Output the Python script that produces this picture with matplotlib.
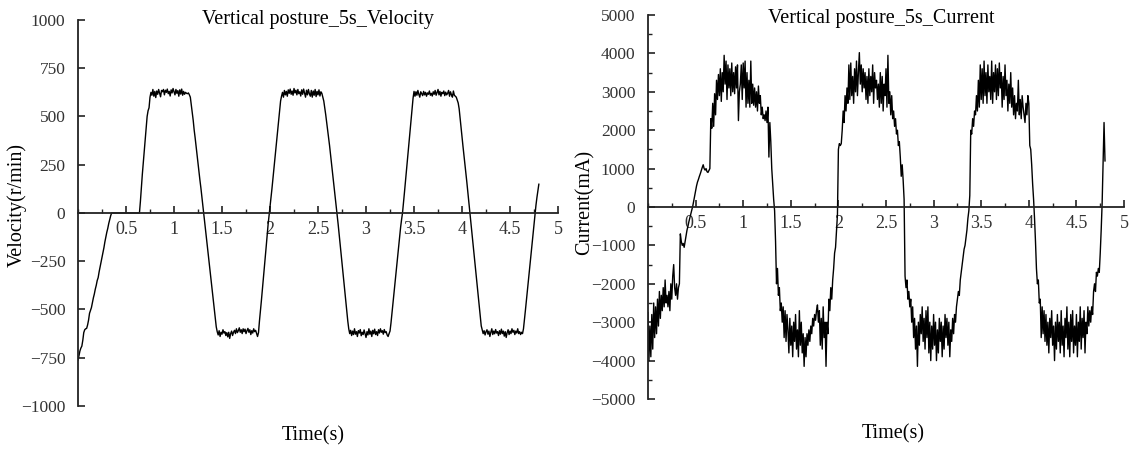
import numpy as np
import matplotlib
matplotlib.use('Agg')
import matplotlib.pyplot as plt
from matplotlib.ticker import MultipleLocator, FixedLocator, FixedFormatter

plt.rcParams['font.family'] = ['Liberation Serif', 'DejaVu Serif']

# sampling step of the logged signals (s)
dt = 0.01

# motor speed, r/min
velocity = [
    -762, -740, -715, -700, -690, -660, -620, -605, -600, -598,
    -580, -555, -520, -505, -490, -465, -440, -420, -395, -375,
    -350, -335, -305, -280, -255, -230, -205, -180, -150, -125,
    -100, -80, -55, -35, -15, 0,
    0, 0, 0, 0, 0, 0, 0, 0, 0, 0, 0, 0, 0, 0, 0, 0, 0, 0, 0, 0,
    0, 0, 0, 0, 0, 0, 0, 0, 0,
    60, 130, 200, 260, 320, 380, 440, 500, 530, 545, 600, 625, 610,
    640, 605, 630, 598, 632, 615, 640, 620, 602, 635,
    628, 640, 612, 636, 625, 642, 618, 630, 606, 638,
    622, 645, 628, 612, 640, 620, 634, 605, 638, 616,
    642, 610, 630, 615, 625, 620, 618, 622, 612,
    600, 560, 520, 480, 430, 390, 345, 300, 255, 215,
    170, 130, 85, 40, 0, -45, -90, -135, -180, -225,
    -270, -320, -365, -410, -455, -500, -545, -590, -615,
    -632, -610, -640, -618, -628, -605, -622, -615, -635, -620,
    -642, -618, -650, -625, -612, -635, -618, -608, -625, -600,
    -620, -610, -595, -618, -605, -625, -600, -615, -602, -625,
    -610, -598, -618, -605, -630, -610, -622, -600, -615, -608,
    -625, -640, -620,
    -560, -510, -455, -400, -345, -290, -230, -175, -115, -60,
    -15, 25, 75, 125, 175, 225, 280, 330, 380, 430,
    480, 530, 580, 605,
    625, 600, 635, 612, 630, 605, 638, 620, 642, 615,
    632, 610, 645, 622, 636, 612, 640, 618, 628, 606,
    638, 615, 642, 620, 600, 636, 612, 640, 618, 605,
    635, 600, 632, 610, 640, 603, 630, 612, 638, 606,
    628, 620,
    600, 580, 545, 510, 470, 430, 390, 350, 305, 260,
    220, 175, 130, 85, 35, -10, -60, -110, -160, -210,
    -260, -310, -360, -410, -460, -510, -560, -600,
    -625, -608, -635, -612, -630, -600, -628, -615, -640, -610,
    -622, -604, -636, -618, -630, -606, -625, -645, -615, -632,
    -600, -628, -612, -640, -608, -626, -602, -630, -615, -635,
    -605, -622, -600, -618, -610, -628, -604, -620, -615, -632,
    -640, -625, -612,
    -570, -520, -470, -420, -370, -320, -270, -220, -170, -120,
    -75, -35, 0, 50, 105, 160, 215, 270, 325, 380,
    435, 490, 545, 595,
    630, 605, 628, 610, 635, 615, 600, 628, 618, 608,
    630, 612, 625, 605, 622, 615, 632, 610, 620, 606,
    628, 615, 635, 610, 624, 640, 612, 630, 605, 625,
    618, 632, 608, 626, 612, 620, 635, 605, 628, 612,
    600, 632, 610, 605, 600,
    585, 570, 540, 490, 440, 395, 345, 300, 255, 205,
    160, 110, 55, 5, -45, -95, -145, -195, -245, -295,
    -345, -395, -445, -495, -540, -585, -605,
    -625, -610, -632, -615, -605, -628, -612, -640, -618, -600,
    -630, -612, -626, -604, -622, -615, -635, -610, -628, -602,
    -625, -612, -638, -615, -645, -620, -605, -630, -612, -625,
    -600, -618, -608, -630, -612, -622, -600, -625, -615, -630,
    -618, -625,
    -600, -555, -505, -455, -405, -355, -305, -255, -205, -155,
    -105, -55, -5, 40, 80, 115, 149,
]

# phase current, mA
current = [
    -2750, -4000, -3100, -3900, -2800, -3700, -2500, -3400, -2600, -3300,
    -2400, -3100, -2200, -2900, -2300, -2700, -2100, -2600, -1900, -2500,
    -2300, -2600, -2200, -2700, -2000, -2400, -1800, -1500, -2100, -2300,
    -2000, -2400, -2100, -2000,
    -700, -900, -1000, -950, -1050, -900, -750, -600, -500, -380,
    -280, -180, -80, 20, 150, 280, 420, 550, 650, 720,
    800, 870, 950, 1030, 1100, 1000, 960, 1000, 920, 900,
    950, 1000,
    2300, 2050, 2700, 2100, 2950, 2400, 3300, 2800, 3450, 2900,
    3600, 2750, 3500, 3000, 3950, 3200, 3800, 2800, 3700, 3100,
    3600, 2900, 3750, 3000, 3500, 2950, 3650, 3100, 3700, 2250,
    3000, 3200, 3700, 2800, 3750, 3100, 3800, 2600, 3500, 2700,
    3300, 2600, 3800, 2700, 3200, 2650, 3100, 2600, 3000, 2500,
    3150, 2700, 2900, 2400, 2600, 2300, 2400, 2250, 2500, 2200,
    2600, 1300, 2200, 1700, 1000, 600, 200,
    -100, -900, -2000, -1600, -2300, -2100, -2700, -2500, -3000, -2600,
    -3400, -2700, -3500, -2800, -3200, -3800, -2900, -3600, -3100, -3900,
    -3000, -3500, -2800, -3700, -3200, -3900, -2700, -3600, -3000, -3800,
    -3300, -4150, -3400, -3900, -3300, -3600, -3200, -3500, -3100, -3300,
    -2900, -3100, -2800, -2950, -2700, -2550, -3000, -2700, -3600, -2900,
    -3700, -2600, -3400, -3000, -4150, -3000, -3300, -2400, -2700, -2100,
    -2400, -1900, -1600, -1200, -1050, -600, -200,
    1500, 1650, 1600, 1650, 2000, 2500, 2200, 2900, 2500, 3100,
    2700, 3700, 2800, 3750, 2900, 3400, 2700, 3600, 3000, 3800,
    2900, 3500, 4020, 3200, 3700, 3000, 3600, 3100, 3500, 2800,
    3400, 2700, 3600, 2900, 3400, 3000, 3700, 2700, 3500, 3100,
    3300, 2800, 3200, 2600, 3500, 2700, 3400, 2500, 3200, 2900,
    3600, 2600, 3950, 2700, 3000, 2400, 2900, 2300, 2500, 2100,
    2300, 1900, 2000, 1600, 1700, 1300, 800, 1100, 700, 200,
    -1800, -2100, -1900, -2400, -2200, -2600, -2400, -3000, -2600, -3400,
    -2900, -3700, -3100, -4150, -3000, -3600, -2800, -3300, -2600, -3500,
    -2900, -3700, -2700, -3400, -2600, -3800, -3000, -4000, -3100, -3700,
    -2800, -3600, -3000, -4000, -3200, -3800, -2900, -3500, -3000, -3900,
    -3100, -3700, -2800, -3400, -2900, -3600, -3000, -3900, -3200, -3500,
    -2900, -3300, -2800, -3000, -2600, -2400, -2200, -2300, -1900, -1700,
    -1500, -1300, -1100, -1000, -800, -600, -300, -100,
    300, 2000, 1900, 2300, 2100, 2500, 2400, 2900, 2500, 3300,
    2600, 3700, 2800, 3600, 2700, 3800, 2900, 3500, 2700, 3700,
    3000, 3400, 2800, 3800, 2700, 3500, 3000, 3700, 2800, 3600,
    2900, 3750, 3100, 3500, 2600, 3400, 2800, 3700, 2900, 3300,
    2500, 3200, 2700, 3500, 2600, 3100, 2400, 2900, 2300, 2700,
    2500, 3300, 2400, 2800, 2300, 2900, 2600, 2400, 2200, 2700,
    2400, 2900, 2700, 1600, 1500, 1100, 600, 200, -300,
    -900, -1600, -2000, -1900, -2500, -2400, -3400, -2600, -3300, -2700,
    -3500, -2800, -3600, -3000, -3800, -2900, -3400, -2700, -3600, -3100,
    -4000, -3000, -3700, -2800, -3500, -3000, -3800, -2700, -3600, -3100,
    -3900, -2900, -3400, -2600, -3700, -3000, -3900, -2800, -3500, -2700,
    -3800, -3100, -3600, -2800, -3900, -3000, -3500, -2600, -3700, -2900,
    -3400, -2700, -3800, -3000, -3300, -2600, -3100, -2700, -3000, -2600,
    -2800, -2200, -2000, -2200, -1700, -1800, -1600, -1700, -1200, -600,
    100, 1200, 2200, 1200,
]

t_vel = np.arange(len(velocity)) * dt
t_cur = np.arange(len(current)) * dt

x_ticks = [0.5, 1, 1.5, 2, 2.5, 3, 3.5, 4, 4.5, 5]
x_tick_labels = ['0.5', '1', '1.5', '2', '2.5', '3', '3.5', '4', '4.5', '5']

fig = plt.figure(figsize=(11.37, 4.53), dpi=100)
ax1 = fig.add_axes([0.0686, 0.1038, 0.4222, 0.8521])
ax2 = fig.add_axes([0.5699, 0.1192, 0.4187, 0.8477])


def style_axes(ax, ymax, ystep, yminor):
    for side in ['top', 'right']:
        ax.spines[side].set_visible(False)
    ax.spines['left'].set_position(('data', 0))
    ax.spines['bottom'].set_position(('data', 0))
    for side in ['left', 'bottom']:
        ax.spines[side].set_linewidth(1.3)
        ax.spines[side].set_color('#222222')
    ax.set_xlim(0, 5)
    ax.set_ylim(-ymax, ymax)
    ax.xaxis.set_major_locator(FixedLocator(x_ticks))
    ax.xaxis.set_major_formatter(FixedFormatter(x_tick_labels))
    ax.xaxis.set_minor_locator(MultipleLocator(0.25))
    ax.yaxis.set_major_locator(MultipleLocator(ystep))
    if yminor:
        ax.yaxis.set_minor_locator(MultipleLocator(yminor))
    ax.tick_params(axis='x', which='major', direction='in', length=5,
                   width=1.2, pad=6, labelsize=13, colors='#222222')
    ax.tick_params(axis='x', which='minor', direction='in', length=3,
                   width=1.0, colors='#222222')
    ax.tick_params(axis='y', which='major', direction='in', length=5,
                   width=1.2, pad=9, labelsize=12.5, colors='#222222')
    ax.tick_params(axis='y', which='minor', direction='in', length=3,
                   width=1.0, colors='#222222')
    for lab in ax.get_yticklabels() + ax.get_xticklabels():
        lab.set_color('#333333')
    ax.patch.set_visible(False)


# left: speed
ax1.plot(t_vel, velocity, color='black', linewidth=1.0)
style_axes(ax1, 1000, 250, None)
ax1.text(0.5, 1.0, 'Vertical posture_5s_Velocity', transform=ax1.transAxes,
         ha='center', va='center', fontsize=14.5)
ax1.set_xlabel('Time(s)', fontsize=14.5)
ax1.xaxis.set_label_coords(0.49, -0.052)
ax1.set_ylabel('Velocity(r/min)', fontsize=14.5)
ax1.yaxis.set_label_coords(-0.106, 0.52)

# right: current
ax2.plot(t_cur, current, color='black', linewidth=1.0)
style_axes(ax2, 5000, 1000, 500)
ax2.text(0.49, 0.99, 'Vertical posture_5s_Current', transform=ax2.transAxes,
         ha='center', va='center', fontsize=14.5)
ax2.set_xlabel('Time(s)', fontsize=14.5)
ax2.xaxis.set_label_coords(0.515, -0.066)
ax2.set_ylabel('Current(mA)', fontsize=14.5)
ax2.yaxis.set_label_coords(-0.113, 0.513)

fig.savefig('out.png', dpi=100)
